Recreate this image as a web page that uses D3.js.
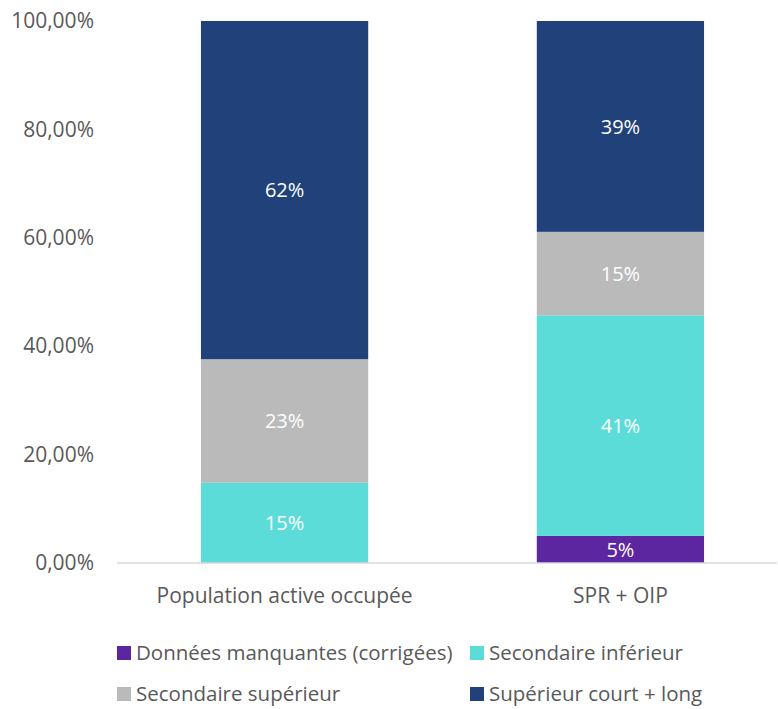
<!DOCTYPE html>
<html>
<head>
<meta charset="utf-8">
<script src="https://cdn.jsdelivr.net/npm/d3@7"></script>
<style>
  body { margin: 0; background: #fff; }
  text { font-family: "Open Sans", sans-serif; }
</style>
</head>
<body>
<div id="chart"></div>
<script>
const categories = ["Population active occupée", "SPR + OIP"];
const seriesNames = ["Données manquantes (corrigées)", "Secondaire inférieur", "Secondaire supérieur", "Supérieur court + long"];
const manquantes = [0, 5.0];
const secInf = [14.8, 40.7];
const secSup = [22.8, 15.4];
const superieur = [62.4, 38.9];
const yTicks = [0, 20, 40, 60, 80, 100];
const colors = ["#5b26a0", "#5bdcd8", "#bababa", "#21417a"];

const width = 778, height = 709;
const margin = { top: 21, right: 1, bottom: 146, left: 117 };
const chartWidth = width - margin.left - margin.right;
const chartHeight = height - margin.top - margin.bottom;

const svg = d3.select("#chart").append("svg")
  .attr("width", width)
  .attr("height", height);

const rows = categories.map((c, i) => ({
  category: c,
  [seriesNames[0]]: manquantes[i],
  [seriesNames[1]]: secInf[i],
  [seriesNames[2]]: secSup[i],
  [seriesNames[3]]: superieur[i]
}));
const stacked = d3.stack().keys(seriesNames)(rows);

// band scale a bit wider than the plot, so bars sit where Excel put them
const x = d3.scaleBand()
  .domain(categories)
  .range([0, 671])
  .paddingInner(0.502)
  .paddingOuter(0.25);

const y = d3.scaleLinear()
  .domain([0, 100])
  .range([chartHeight, 0]);

const chart = svg.append("g")
  .attr("transform", `translate(${margin.left},${margin.top})`);

// bars
const layers = chart.selectAll("g.layer")
  .data(stacked)
  .enter().append("g")
  .attr("class", "layer")
  .attr("fill", (d, i) => colors[i]);

layers.selectAll("rect")
  .data(d => d.filter(p => p[1] - p[0] > 0))
  .enter().append("rect")
  .attr("x", d => x(d.data.category))
  .attr("y", d => y(d[1]))
  .attr("width", x.bandwidth())
  .attr("height", d => y(d[0]) - y(d[1]));

// value labels
layers.selectAll("text")
  .data(d => d.filter(p => p[1] - p[0] > 0))
  .enter().append("text")
  .attr("x", d => x(d.data.category) + x.bandwidth() / 2)
  .attr("y", d => (y(d[0]) + y(d[1])) / 2)
  .attr("dy", "0.36em")
  .attr("text-anchor", "middle")
  .attr("fill", "#fff")
  .style("font-size", "20px")
  .text(d => Math.round(d[1] - d[0]) + "%");

// y axis (labels only)
const yAxis = chart.append("g")
  .call(d3.axisLeft(y).tickValues(yTicks).tickSize(0).tickPadding(23)
    .tickFormat(d => d.toFixed(2).replace(".", ",") + "%"));
yAxis.select(".domain").remove();
yAxis.selectAll("text")
  .attr("fill", "#595959")
  .style("font-size", "21px")
  .style("font-family", "'Open Sans', sans-serif");

// x axis
const xAxis = chart.append("g")
  .attr("transform", `translate(0,${chartHeight})`)
  .call(d3.axisBottom(x).tickSize(0).tickPadding(25));
xAxis.select(".domain").remove();
xAxis.append("line")
  .attr("x1", 0).attr("x2", chartWidth)
  .attr("stroke", "#d9d9d9").attr("stroke-width", 1.5);
xAxis.selectAll("text")
  .attr("fill", "#595959")
  .style("font-size", "21px")
  .style("font-family", "'Open Sans', sans-serif");

// legend
const legendPos = [[117, 653], [470, 653], [117, 694], [470, 694]];
const legend = svg.append("g");
seriesNames.forEach((name, i) => {
  const g = legend.append("g")
    .attr("transform", `translate(${legendPos[i][0]},${legendPos[i][1]})`);
  g.append("rect")
    .attr("x", 0).attr("y", -7)
    .attr("width", 14).attr("height", 14)
    .attr("fill", colors[i]);
  g.append("text")
    .attr("x", 19).attr("y", 0)
    .attr("dy", "0.34em")
    .attr("fill", "#595959")
    .style("font-size", "20.5px")
    .text(name);
});
</script>
</body>
</html>
